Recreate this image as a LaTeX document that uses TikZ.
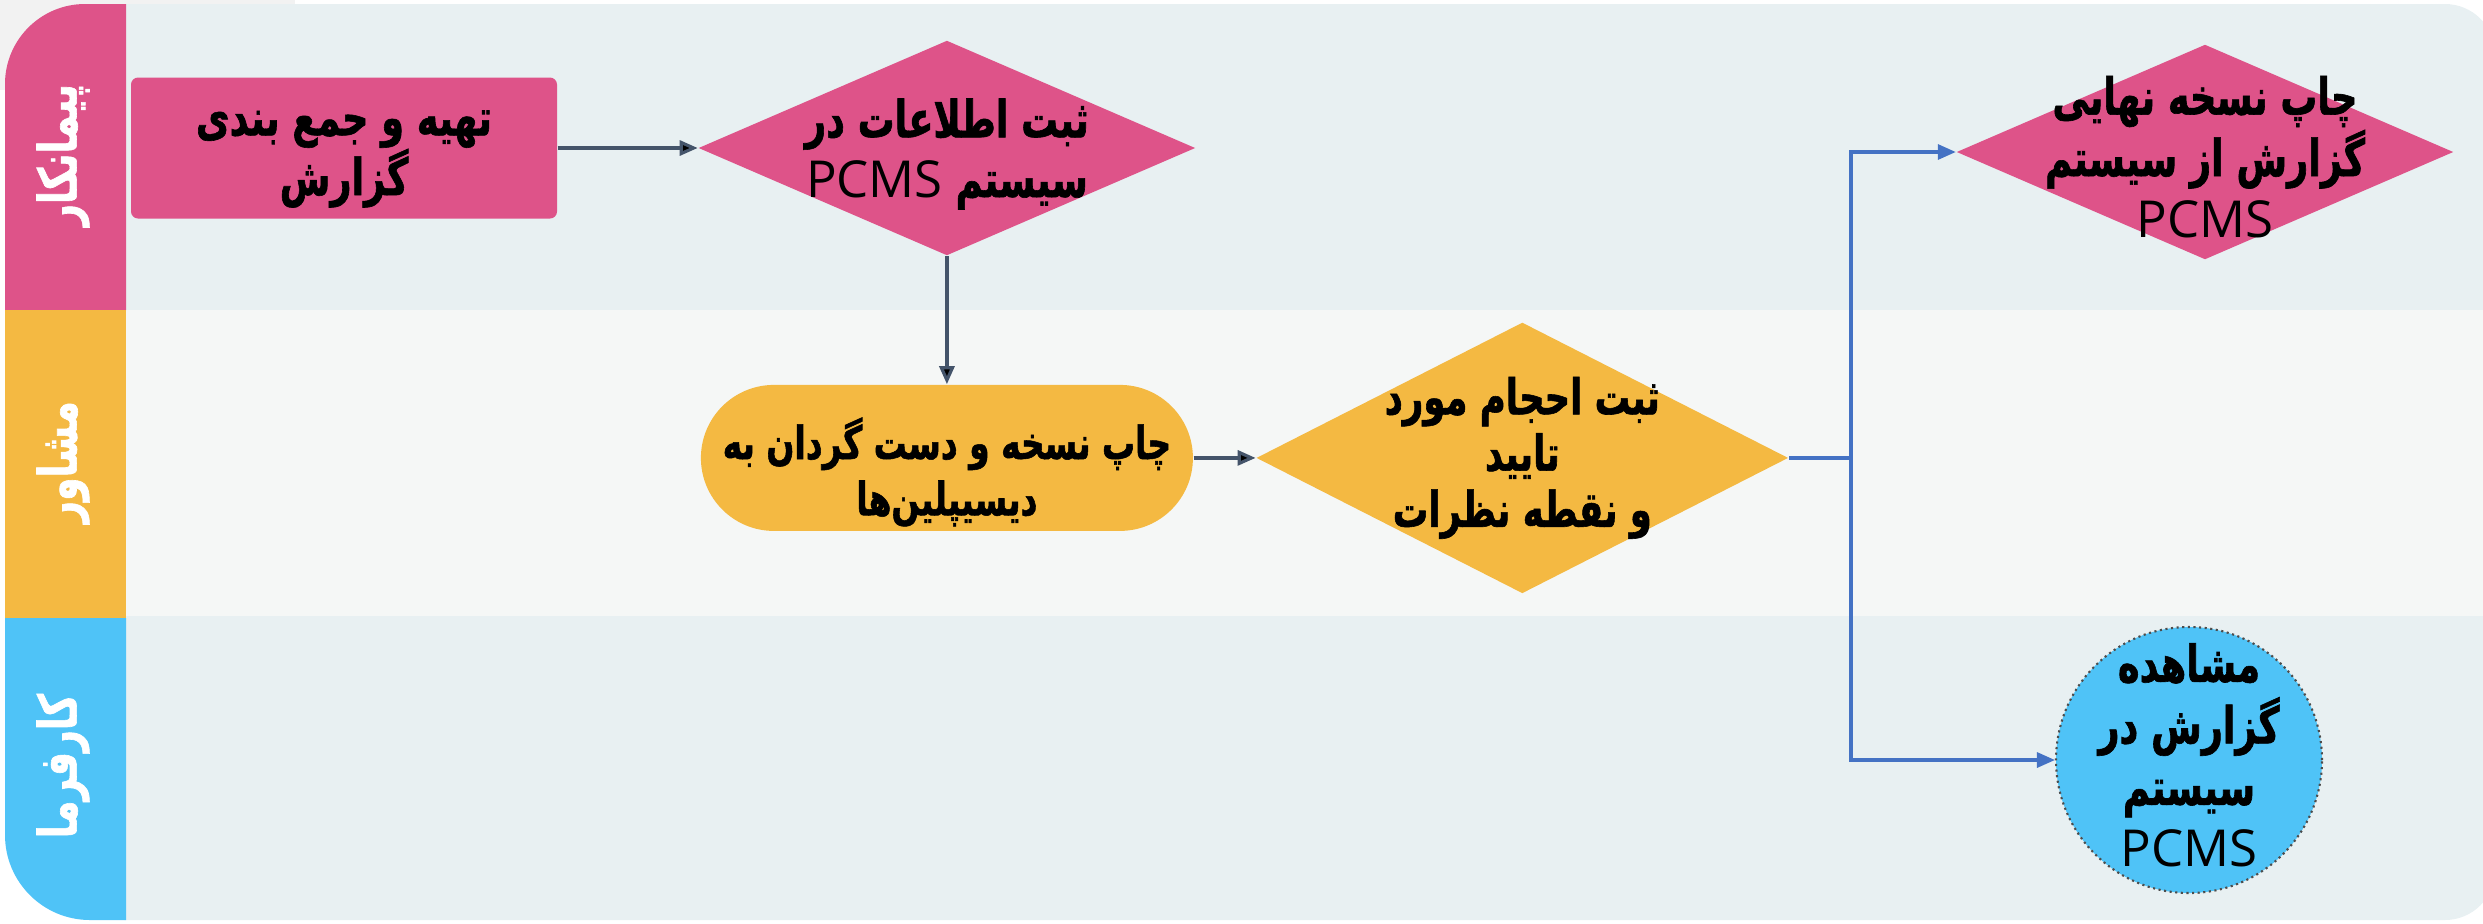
\documentclass[tikz,border=0pt]{standalone}
\usepackage{fontspec}
\usepackage{xcolor}
\usetikzlibrary{shapes.geometric,positioning,arrows.meta}
\TeXXeTstate=1
\newfontfamily\farsi[Script=Arabic,FakeStretch=0.72,BoldFeatures={FakeBold=1.2}]{DejaVu Sans}
\newfontfamily\latin{Open Sans}
\newcommand{\fa}[1]{\beginR #1\endR}
\newcommand{\pcms}{\beginL{\latin\mdseries PCMS}\endL}
\definecolor{pinkc}{HTML}{DE5389}
\definecolor{orangec}{HTML}{F4B942}
\definecolor{bluec}{HTML}{4FC3F7}
\definecolor{laneA}{HTML}{E8F0F2}
\definecolor{laneB}{HTML}{F5F7F6}
\definecolor{slate}{HTML}{44546A}
\definecolor{linkblue}{HTML}{4472C4}

\begin{document}
\begin{tikzpicture}[>={Triangle[length=1.8mm,width=1.5mm]},node distance=1.4cm,
    lane label/.style={rotate=90,text=white,font=\farsi\bfseries\fontsize{15}{18}\selectfont},
    main text/.style={align=center,font=\farsi\bfseries\fontsize{14}{16}\selectfont},
    task box/.style={rectangle,rounded corners=2pt,fill=pinkc,minimum width=4.26cm,minimum height=1.41cm},
    pink dia/.style={diamond,fill=pinkc,inner sep=0pt,minimum width=4.97cm,minimum height=2.15cm},
    print box/.style={rectangle,rounded corners=0.73cm,fill=orangec,minimum width=4.92cm,minimum height=1.46cm},
    check dia/.style={diamond,fill=orangec,inner sep=0pt,minimum width=5.32cm,minimum height=2.71cm},
    view circle/.style={circle,fill=bluec,draw=black!70,densely dotted,line width=0.6pt,minimum size=2.66cm}]
    \useasboundingbox (0,0) rectangle (24.83,-9.23);

    % lanes
    \fill[black!5] (0,0) rectangle (2.95,-0.9);
    \fill[laneA] (1.24,-3.10) -- (1.24,-0.04) -- (24.45,-0.04) arc[start angle=90,end angle=0,radius=0.5] -- (24.95,-3.10) -- cycle;
    \fill[laneB] (1.24,-3.10) rectangle (24.95,-6.16);
    \fill[laneA] (1.24,-6.16) -- (1.24,-9.20) -- (24.45,-9.20) arc[start angle=270,end angle=360,radius=0.5] -- (24.95,-6.16) -- cycle;
    \fill[pinkc] (0.05,-3.10) -- (0.05,-0.84) arc[start angle=180,end angle=90,radius=0.8] -- (1.26,-0.04) -- (1.26,-3.10) -- cycle;
    \fill[orangec] (0.05,-3.10) rectangle (1.26,-6.18);
    \fill[bluec] (0.05,-6.18) -- (0.05,-8.35) arc[start angle=180,end angle=270,radius=0.85] -- (1.26,-9.20) -- (1.26,-6.18) -- cycle;
    \node[lane label] (l1) at (0.63,-1.55) {\fa{پیمانکار}};
    \node[lane label] (l2) at (0.63,-4.62) {\fa{مشاور}};
    \node[lane label] (l3) at (0.63,-7.66) {\fa{کارفرما}};

    % steps
    \node[task box] (1) at (3.44,-1.48) {};
    \node[pink dia] (2) [right=of 1] {};
    \node[print box] (3) [below=1.28cm of 2] {};
    \node[check dia] (4) [right=0.62cm of 3] {};
    \node[pink dia] (5) at (22.05,-1.52) {};
    \node[view circle] (6) at (21.89,-7.60) {};
    \coordinate (split) at ([xshift=0.62cm]4.east);

    \node[main text,font=\farsi\bfseries\fontsize{14.5}{17}\selectfont] (1t) at ([yshift=-0.11cm]1) {\fa{تهیه و جمع بندی}\\\fa{گزارش}};
    \node[main text,font=\farsi\bfseries\fontsize{14.5}{17}\selectfont] (2t) at ([yshift=-0.06cm]2) {\fa{ثبت اطلاعات در}\\\fa{سیستم \pcms}};
    \node[main text,font=\farsi\bfseries\fontsize{13}{16}\selectfont] (3t) at ([yshift=-0.14cm]3) {\fa{چاپ نسخه و دست گردان به}\\\fa{دیسیپلین‌ها}};
    \node[main text] (4t) at (4) {\fa{ثبت احجام مورد}\\\fa{تایید}\\\fa{و نقطه نظرات}};
    \node[main text,font=\farsi\bfseries\fontsize{14.5}{17.5}\selectfont] (5t) at ([yshift=-0.05cm]5) {\fa{چاپ نسخه نهایی}\\\fa{گزارش از سیستم}\\\pcms};
    \node[main text,font=\farsi\bfseries\fontsize{14.5}{17.5}\selectfont] (6t) at ([yshift=0.05cm]6) {\fa{مشاهده}\\\fa{گزارش در}\\\fa{سیستم}\\\pcms};

    \path[->,draw=slate,line width=0.9pt]
        (1) edge (2)
        (2) edge (3)
        (3) edge (4)
    ;
    \draw[linkblue,line width=0.9pt] (4) -- (split);
    \draw[->,linkblue,line width=0.9pt] (split) |- (5);
    \draw[->,linkblue,line width=0.9pt] (split) |- (6);
\end{tikzpicture}
\end{document}
